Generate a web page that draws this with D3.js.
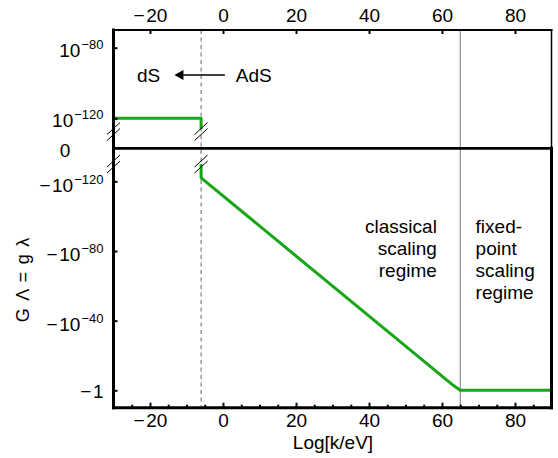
<!DOCTYPE html>
<html>
<head>
<meta charset="utf-8">
<script src="https://cdn.jsdelivr.net/npm/d3@7"></script>
<style>
body { margin: 0; background: #fff; }
text { font-family: "Liberation Sans", Arial, sans-serif; fill: #000; }
</style>
</head>
<body>
<svg width="558" height="458"></svg>
<script>
// Data
var xTicks = [-20, 0, 20, 40, 60, 80];
var xMinor = [-25, -15, -10, -5, 5, 10, 15, 25, 30, 35, 45, 50, 55, 65, 70, 75, 85];
var upperTicks = [1e-80, 1e-120];
var upperLabels = ['\u2212' + '80', '\u2212' + '120'];
var lowerTicks = [-1e-120, -1e-80, -1e-40, -1];
var lowerLabels = ['\u2212' + '120', '\u2212' + '80', '\u2212' + '40', null];

// upper panel (positive G Lambda, de Sitter)
var upperX = [-30, -6, -6];
var upperVal = [1e-120, 1e-120, 1e-126];
// lower panel (negative G Lambda, anti de Sitter)
var lowerX = [-6, -6, 63, 65, 90];
var lowerVal = [-1e-130, -1e-122, -1e-3, -1, -1];

var dashedX = -6;     // dS / AdS transition
var regimeX = 65;     // classical -> fixed point

var svg = d3.select('svg');
var green = '#17a617';

// Layout ('top' is taken by window.top, so use plot* names)
var plotL = 113.5, plotR = 551.5;
var plotT = 30, plotM = 148.3, plotB = 407.7;

var xScale = d3.scaleLinear().domain([-30, 90]).range([plotL, plotR]);
var yTop = d3.scaleLog().domain([1e-137, 1e-70]).range([plotM, plotT]);
var yBot = d3.scaleLog().domain([-1e-139, -1e10]).range([plotM, plotB]);

// vertical guide lines
svg.append('line')
    .attr('x1', xScale(dashedX)).attr('x2', xScale(dashedX))
    .attr('y1', plotT).attr('y2', plotB)
    .attr('stroke', '#666').attr('stroke-width', 1)
    .attr('stroke-dasharray', '4,3.5');
svg.append('line')
    .attr('x1', xScale(regimeX)).attr('x2', xScale(regimeX))
    .attr('y1', plotT).attr('y2', plotB)
    .attr('stroke', '#777').attr('stroke-width', 1);

// curves
var upperLine = d3.line()
    .x(function(d, i) { return xScale(upperX[i]); })
    .y(function(d, i) { return yTop(upperVal[i]); });
var lowerLine = d3.line()
    .x(function(d, i) { return xScale(lowerX[i]); })
    .y(function(d, i) { return yBot(lowerVal[i]); });

svg.append('path').attr('d', upperLine(upperX))
    .attr('fill', 'none').attr('stroke', green).attr('stroke-width', 3)
    .attr('stroke-linejoin', 'round');
svg.append('path').attr('d', lowerLine(lowerX))
    .attr('fill', 'none').attr('stroke', green).attr('stroke-width', 3)
    .attr('stroke-linejoin', 'round');

// frame
function seg(x1, y1, x2, y2, w) {
    svg.append('line').attr('x1', x1).attr('y1', y1).attr('x2', x2).attr('y2', y2)
        .attr('stroke', '#000').attr('stroke-width', w).attr('stroke-linecap', 'square');
}
seg(plotL, plotT, plotR, plotT, 2);
seg(plotR, plotT, plotR, plotM, 1.5);
seg(plotR, plotM, plotR, plotB, 3);
seg(plotL, plotT, plotL, plotB, 3);
seg(plotL, plotM, plotR, plotM, 2.7);
seg(plotL, plotB, plotR, plotB, 3);

// x axes (ticks point inward)
var fmt = function(d) { return d < 0 ? '\u2212\u200a' + (-d) : d; };

svg.append('g').attr('transform', 'translate(0,' + plotB + ')')
    .call(d3.axisBottom(xScale).tickValues(xTicks).tickSizeInner(-5).tickSizeOuter(0)
        .tickPadding(5.5).tickFormat(fmt));
svg.append('g').attr('transform', 'translate(0,' + plotB + ')')
    .call(d3.axisBottom(xScale).tickValues(xMinor).tickSizeInner(-3).tickSizeOuter(0).tickFormat(''));
svg.append('g').attr('transform', 'translate(0,' + plotT + ')')
    .call(d3.axisTop(xScale).tickValues(xTicks).tickSizeInner(-4).tickSizeOuter(0)
        .tickPadding(8.3).tickFormat(fmt));

// y axes with 10^n labels
function supLabels(g, labels, dy) {
    g.selectAll('.tick text').each(function(d, i) {
        var t = d3.select(this).text(null).attr('dy', dy);
        if (labels[i] === null) {
            t.text('\u2212\u200a1').attr('dy', '0.4em');
            return;
        }
        var neg = d < 0 ? '\u2212\u200a' : '';
        t.append('tspan').text(neg + '10');
        t.append('tspan').attr('dy', -8).attr('dx', 1).style('font-size', '13px').text(labels[i]);
    });
}
var yTopG = svg.append('g').attr('transform', 'translate(' + plotL + ',0)')
    .call(d3.axisLeft(yTop).tickValues(upperTicks).tickSizeInner(-4).tickSizeOuter(0).tickPadding(10));
supLabels(yTopG, upperLabels, '0.45em');
var yBotG = svg.append('g').attr('transform', 'translate(' + plotL + ',0)')
    .call(d3.axisLeft(yBot).tickValues(lowerTicks).tickSizeInner(-4).tickSizeOuter(0).tickPadding(10));
supLabels(yBotG, lowerLabels, '0.52em');

svg.selectAll('.domain').remove();
svg.selectAll('.tick line').attr('stroke-width', 2);
svg.selectAll('.tick text')
    .style('font-family', '"Liberation Sans", Arial, sans-serif')
    .style('font-size', '19px');

svg.append('text').attr('x', 65).attr('y', 157).attr('text-anchor', 'middle')
    .style('font-size', '19px').text('0');

// axis break marks
function breakMark(cx, cy) {
    [-3, 3].forEach(function(o) {
        svg.append('line')
            .attr('x1', cx - 6.5).attr('y1', cy + o + 6)
            .attr('x2', cx + 6.5).attr('y2', cy + o - 6)
            .attr('stroke', '#000').attr('stroke-width', 1);
    });
}
[plotL, xScale(dashedX)].forEach(function(cx) {
    breakMark(cx, 131.5);
    breakMark(cx, 164);
});

// titles
svg.append('text').attr('x', 333).attr('y', 449).attr('text-anchor', 'middle')
    .style('font-size', '19px').text('Log[k/eV]');
svg.append('text').attr('transform', 'translate(29,280) rotate(-90)')
    .attr('text-anchor', 'middle').style('font-size', '18px').style('word-spacing', '2.5px')
    .text('G \u039b = g \u03bb');

// annotations
svg.append('text').attr('x', xScale(-20.4)).attr('y', 82).attr('text-anchor', 'middle')
    .style('font-size', '19px').text('dS');
svg.append('text').attr('x', xScale(3.5)).attr('y', 82)
    .style('font-size', '19px').text('AdS');
svg.append('line').attr('x1', xScale(0.5)).attr('x2', xScale(-11)).attr('y1', 75).attr('y2', 75)
    .attr('stroke', '#000').attr('stroke-width', 1.5);
svg.append('path')
    .attr('d', 'M' + xScale(-13.3) + ',75 l9,-5 l0,10 z')
    .attr('fill', '#000');

var classical = ['classical', 'scaling', 'regime'];
var fixed = ['fixed-', 'point', 'scaling', 'regime'];
classical.forEach(function(s, i) {
    svg.append('text').attr('x', xScale(58.6)).attr('y', 233 + i * 22)
        .attr('text-anchor', 'end').style('font-size', '19px').text(s);
});
fixed.forEach(function(s, i) {
    svg.append('text').attr('x', xScale(69.2)).attr('y', 233 + i * 22)
        .style('font-size', '19px').text(s);
});
</script>
</body>
</html>
